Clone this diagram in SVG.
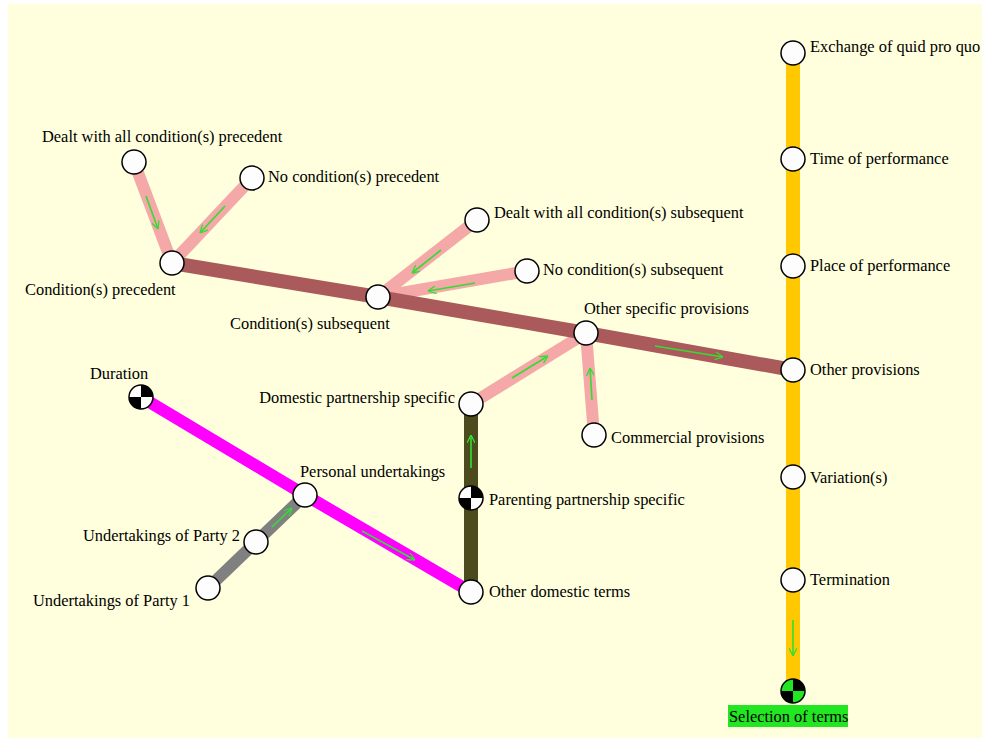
<svg xmlns="http://www.w3.org/2000/svg" width="982" height="738" viewBox="0 0 982 738">
  <style>
    .lbl { font-family: "Liberation Serif", "Times New Roman", serif; font-size: 16.4px; fill: #000; }
    .node { fill: #fdfdfd; stroke: #000; stroke-width: 1.5; }
    .line { fill: none; stroke-linecap: butt; stroke-linejoin: round; }
    .brown { stroke: #aa5a5a; stroke-width: 14; }
    .pink { stroke: #f4a8a8; stroke-width: 12; }
    .yellow { stroke: #ffc800; stroke-width: 14; }
    .magenta { stroke: #ff00ff; stroke-width: 12; }
    .grey { stroke: #808080; stroke-width: 12; }
    .olive { stroke: #4b4b1e; stroke-width: 14; }
    .flow { stroke: #33dd33; stroke-width: 1.6; fill: none; marker-end: url(#vhead); }
  </style>
  <defs>
    <marker id="vhead" viewBox="0 0 10 10" refX="10" refY="5" markerWidth="8" markerHeight="8" orient="auto" markerUnits="userSpaceOnUse">
      <path d="M0,0 L10,5 L0,10" fill="none" stroke="#33dd33" stroke-width="1.6"/>
    </marker>
    <g id="plain">
      <circle r="12" class="node"/>
    </g>
    <g id="check">
      <circle r="12" fill="#fdfdfd"/>
      <path d="M0,0 L0,-12 A12,12 0 0 1 12,0 Z M0,0 L0,12 A12,12 0 0 1 -12,0 Z" fill="#000"/>
      <circle r="12" fill="none" stroke="#000" stroke-width="1.5"/>
    </g>
    <g id="checkGreen">
      <circle r="12" fill="#22e622"/>
      <path d="M0,0 L0,-12 A12,12 0 0 1 12,0 Z M0,0 L0,12 A12,12 0 0 1 -12,0 Z" fill="#000"/>
      <circle r="12" fill="none" stroke="#000" stroke-width="1.5"/>
    </g>
  </defs>

  <!-- canvas -->
  <rect width="982" height="738" fill="#ffffff"/>
  <rect x="8" y="4" width="974" height="734" fill="#ffffdd"/>

  <!-- connectors -->
  <g id="connectors">
    <line class="line yellow" x1="793" y1="53" x2="793" y2="691"/>
    <line class="line pink" x1="134" y1="162" x2="172" y2="263"/>
    <line class="line pink" x1="252" y1="178" x2="172" y2="263"/>
    <line class="line pink" x1="477" y1="220" x2="378" y2="297"/>
    <line class="line pink" x1="527" y1="271" x2="378" y2="297"/>
    <line class="line pink" x1="471" y1="404" x2="586" y2="333"/>
    <line class="line pink" x1="594" y1="435" x2="586" y2="333"/>
    <polyline class="line brown" points="172,263 378,297 586,333 793,370"/>
    <polyline class="line magenta" points="141,397 305,495 471,592"/>
    <polyline class="line grey" points="208,588 256,542 305,495"/>
    <polyline class="line olive" points="471,592 471,498 471,404"/>

    <!-- direction marks -->
    <line class="flow" x1="146" y1="196" x2="158" y2="229"/>
    <line class="flow" x1="225" y1="206" x2="200" y2="233"/>
    <line class="flow" x1="441" y1="250" x2="412" y2="273"/>
    <line class="flow" x1="475" y1="283" x2="428" y2="291"/>
    <line class="flow" x1="655" y1="346" x2="723" y2="357"/>
    <line class="flow" x1="512" y1="378" x2="548" y2="356"/>
    <line class="flow" x1="592" y1="400" x2="590" y2="368"/>
    <line class="flow" x1="471" y1="468" x2="471" y2="435"/>
    <line class="flow" x1="362" y1="531" x2="415" y2="560"/>
    <line class="flow" x1="272" y1="527" x2="292" y2="508"/>
    <line class="flow" x1="793" y1="620" x2="793" y2="656"/>
  </g>

  <!-- nodes -->
  <g id="exchange-quid-pro-quo"><use href="#plain" x="793" y="53"/><text class="lbl" x="810" y="52">Exchange of quid pro quo</text></g>
  <g id="time-of-performance"><use href="#plain" x="793" y="159"/><text class="lbl" x="810" y="164">Time of performance</text></g>
  <g id="place-of-performance"><use href="#plain" x="793" y="266"/><text class="lbl" x="810" y="271">Place of performance</text></g>
  <g id="other-provisions"><use href="#plain" x="793" y="370"/><text class="lbl" x="810" y="375">Other provisions</text></g>
  <g id="variations"><use href="#plain" x="793" y="477"/><text class="lbl" x="810" y="483">Variation(s)</text></g>
  <g id="termination"><use href="#plain" x="793" y="580"/><text class="lbl" x="810" y="585">Termination</text></g>
  <g id="selection-of-terms">
    <use href="#checkGreen" x="793" y="691"/>
    <rect x="728" y="705" width="120" height="22" fill="#22e622"/>
    <text class="lbl" x="729" y="722">Selection of terms</text>
  </g>

  <g id="dealt-cp"><use href="#plain" x="134" y="162"/><text class="lbl" x="42" y="142">Dealt with all condition(s) precedent</text></g>
  <g id="no-cp"><use href="#plain" x="252" y="178"/><text class="lbl" x="268" y="182">No condition(s) precedent</text></g>
  <g id="conditions-precedent"><use href="#plain" x="172" y="263"/><text class="lbl" x="25" y="295">Condition(s) precedent</text></g>
  <g id="conditions-subsequent"><use href="#plain" x="378" y="297"/><text class="lbl" x="230" y="329">Condition(s) subsequent</text></g>
  <g id="dealt-cs"><use href="#plain" x="477" y="220"/><text class="lbl" x="494" y="218">Dealt with all condition(s) subsequent</text></g>
  <g id="no-cs"><use href="#plain" x="527" y="271"/><text class="lbl" x="543" y="275">No condition(s) subsequent</text></g>
  <g id="other-specific-provisions"><use href="#plain" x="586" y="333"/><text class="lbl" x="584" y="314">Other specific provisions</text></g>
  <g id="commercial-provisions"><use href="#plain" x="594" y="435"/><text class="lbl" x="611" y="443">Commercial provisions</text></g>
  <g id="domestic-partnership"><use href="#plain" x="471" y="404"/><text class="lbl" x="455" y="403" text-anchor="end">Domestic partnership specific</text></g>
  <g id="parenting-partnership"><use href="#check" x="471" y="498"/><text class="lbl" x="489" y="505">Parenting partnership specific</text></g>
  <g id="other-domestic-terms"><use href="#plain" x="471" y="592"/><text class="lbl" x="489" y="597">Other domestic terms</text></g>
  <g id="duration"><use href="#check" x="141" y="397"/><text class="lbl" x="90" y="379">Duration</text></g>
  <g id="personal-undertakings"><use href="#plain" x="305" y="495"/><text class="lbl" x="300" y="477">Personal undertakings</text></g>
  <g id="undertakings-party-2"><use href="#plain" x="256" y="542"/><text class="lbl" x="240" y="541" text-anchor="end">Undertakings of Party 2</text></g>
  <g id="undertakings-party-1"><use href="#plain" x="208" y="588"/><text class="lbl" x="190" y="606" text-anchor="end">Undertakings of Party 1</text></g>
</svg>
